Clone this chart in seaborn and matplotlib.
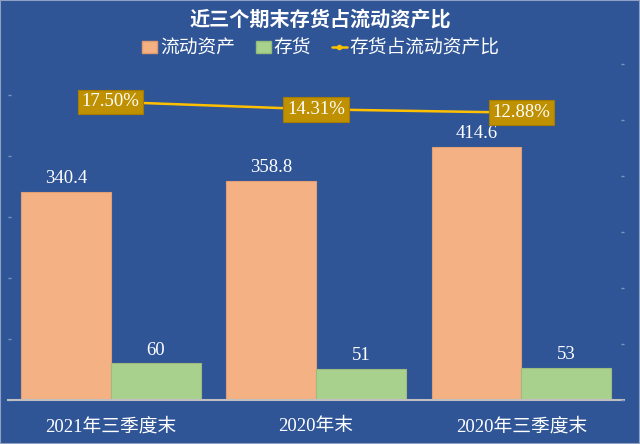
import matplotlib
matplotlib.use("Agg")
import matplotlib.pyplot as plt
import seaborn as sns
import pandas as pd
import numpy as np
from matplotlib.patches import Rectangle, Patch
from matplotlib.lines import Line2D

categories = ["2021年三季度末", "2020年末", "2020年三季度末"]
current_assets = [340.4, 358.8, 414.6]
inventory = [60, 51, 53]
ratio = [17.50, 14.31, 12.88]
series_names = ["流动资产", "存货"]
line_name = "存货占流动资产比"
title = "近三个期末存货占流动资产比"

BG = "#2F5597"
ORANGE = "#F4B183"
GREEN = "#A9D18E"
GOLD = "#FFC000"
BOX = "#BF9000"

sns.set_theme(style="white")
plt.rcParams["font.family"] = ["Liberation Serif", "Noto Sans CJK SC", "DejaVu Sans"]
CJK = ["Noto Sans CJK SC", "DejaVu Sans"]

df = pd.DataFrame({
    "cat": categories * 2,
    "series": [series_names[0]] * 3 + [series_names[1]] * 3,
    "value": current_assets + inventory,
})

fig = plt.figure(figsize=(6.4, 4.44), dpi=100, facecolor=BG)
ax = fig.add_axes([8 / 640, 44 / 444, 616 / 640, 336 / 444])
ax.set_facecolor(BG)

sns.barplot(data=df, x="cat", y="value", hue="series", order=categories,
            hue_order=series_names, palette=[ORANGE, GREEN], width=0.875,
            gap=0, saturation=1, ax=ax, legend=False)
for p in ax.patches:
    fc = p.get_facecolor()
    p.set_edgecolor((fc[0] * 0.93, fc[1] * 0.9, fc[2] * 0.88, 1))
    p.set_linewidth(0.8)

ax.set_xlim(-0.5, 2.5)
ax.set_ylim(0, 550)
ax.set_yticks([0, 100, 200, 300, 400, 500])
ax.set_xlabel("")
ax.set_ylabel("")
for s in ["top", "left", "right"]:
    ax.spines[s].set_visible(False)
ax.spines["bottom"].set_color("#BFBFBF")
ax.spines["bottom"].set_linewidth(1.5)
ax.tick_params(axis="y", length=2, width=1, color="#7F93BF", labelleft=False, direction="in")
ax.tick_params(axis="x", length=0, pad=13, labelsize=13.5, labelcolor="white")

# bar value labels
for cont in ax.containers:
    for rect in cont:
        h = rect.get_height()
        ax.annotate(f"{h:g}", (rect.get_x() + rect.get_width() / 2, h),
                    xytext=(0, 9.5), textcoords="offset points", ha="center",
                    va="center", color="white", fontsize=13.5,
                    family=["Liberation Serif", "DejaVu Serif"])

ax2 = ax.twinx()
sns.lineplot(x=[0, 1, 2], y=ratio, ax=ax2, color=GOLD, linewidth=1.8,
             marker="o", markersize=4, markeredgewidth=0)
ax2.set_ylim(-109.4, 33.6)
ax2.set_yticks(np.linspace(-109.4, 33.6, 7))
ax2.tick_params(axis="y", length=2, width=1, color="#7F93BF", labelright=False, direction="in")
for s in ax2.spines.values():
    s.set_visible(False)
ax2.set_ylabel("")
for i, v in enumerate(ratio):
    ax2.text(i, v, f"{v:.2f}%", ha="center", va="center", color="white",
             fontsize=13.5, family=["Liberation Serif", "DejaVu Serif"],
             bbox=dict(boxstyle="square,pad=0.2", facecolor=BOX,
                       edgecolor="#A67C00", linewidth=0.8), zorder=5)

# title
fig.text(0.5, (444 - 19) / 444, title, ha="center", va="center", color="white",
         fontsize=14.5, fontweight="bold", family=CJK)

# legend
handles = [Patch(facecolor=ORANGE, edgecolor="#E39A6B"),
           Patch(facecolor=GREEN, edgecolor="#93BB78"),
           Line2D([], [], color=GOLD, linewidth=1.8, marker="o", markersize=3)]
leg = fig.legend(handles, series_names + [line_name], loc="center",
                 bbox_to_anchor=(321 / 640, (444 - 48) / 444), ncol=3,
                 frameon=False, handlelength=0.8, handleheight=0.6,
                 handletextpad=0.15, columnspacing=1.1,
                 prop={"family": CJK, "size": 13.5})
for t in leg.get_texts():
    t.set_color("white")

fig.patches.append(Rectangle((0, 0), 1, 1, transform=fig.transFigure,
                             fill=False, edgecolor="#8EA0C4", linewidth=1.5))

fig.savefig("out.png", dpi=100, facecolor=BG)
